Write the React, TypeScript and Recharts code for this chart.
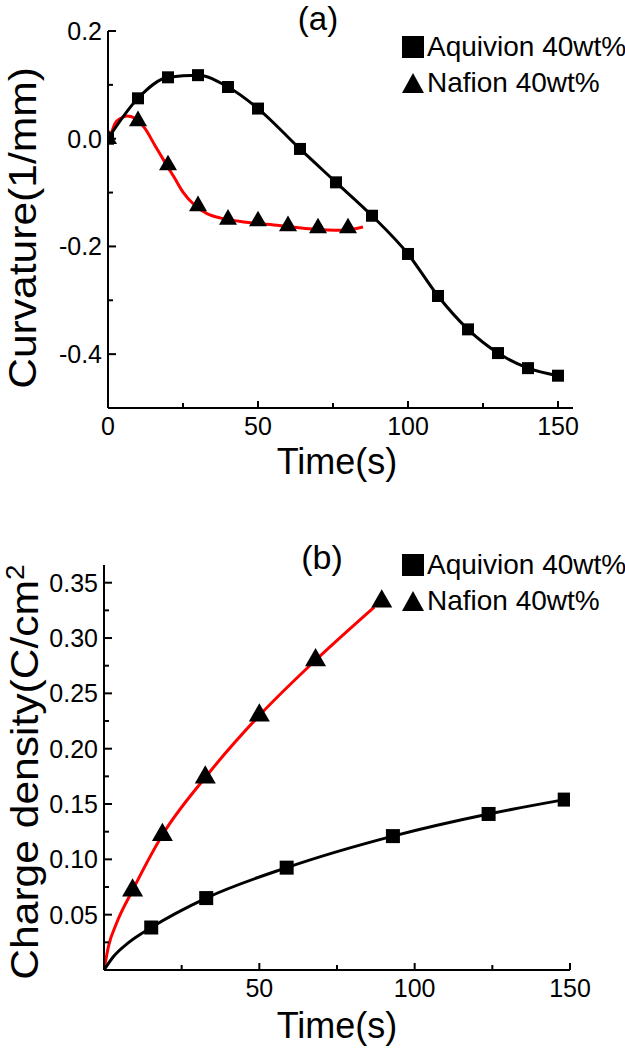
import React from "react";
import { ComposedChart, Line, XAxis, YAxis } from "recharts";

// (a) curvature vs time
const aquivionCurv = [
  { x: 0, y: 0 }, { x: 10, y: 0.075 }, { x: 20, y: 0.114 }, { x: 30, y: 0.118 },
  { x: 40, y: 0.096 }, { x: 50, y: 0.056 }, { x: 64, y: -0.019 }, { x: 76, y: -0.081 },
  { x: 88, y: -0.143 }, { x: 100, y: -0.214 }, { x: 110, y: -0.292 }, { x: 120, y: -0.354 },
  { x: 130, y: -0.398 }, { x: 140, y: -0.426 }, { x: 150, y: -0.44 },
];
const nafionCurv = [
  { x: 0, y: 0 }, { x: 10, y: 0.033 }, { x: 20, y: -0.049 }, { x: 30, y: -0.125 },
  { x: 40, y: -0.15 }, { x: 50, y: -0.153 }, { x: 60, y: -0.162 }, { x: 70, y: -0.166 },
  { x: 80, y: -0.166 },
];
// red fitted curve
const nafionCurvFit = [
  { x: 0, y: 0 }, { x: 1, y: 0.009 }, { x: 2.3, y: 0.028 }, { x: 4.3, y: 0.038 },
  { x: 6.3, y: 0.042 }, { x: 9, y: 0.038 }, { x: 12.3, y: 0.019 }, { x: 15.6, y: -0.012 },
  { x: 18.9, y: -0.043 }, { x: 22.3, y: -0.074 }, { x: 25, y: -0.099 }, { x: 29, y: -0.124 },
  { x: 33, y: -0.139 }, { x: 38, y: -0.148 }, { x: 46, y: -0.155 }, { x: 57, y: -0.161 },
  { x: 67, y: -0.167 }, { x: 78, y: -0.17 }, { x: 85, y: -0.164 },
];

// (b) charge density vs time
const aquivionCharge = [
  { x: 15.2, y: 0.0384 }, { x: 32.9, y: 0.065 }, { x: 58.8, y: 0.0925 },
  { x: 93, y: 0.121 }, { x: 123.8, y: 0.141 }, { x: 148.3, y: 0.154 },
];
const aquivionChargeFit = [
  { x: 0, y: 0 }, { x: 3, y: 0.012 }, { x: 8, y: 0.025 }, { x: 15.2, y: 0.0384 },
  { x: 32.9, y: 0.065 }, { x: 58.8, y: 0.0925 }, { x: 93, y: 0.121 },
  { x: 123.8, y: 0.141 }, { x: 148.3, y: 0.154 },
];
const nafionCharge = [
  { x: 9.2, y: 0.072 }, { x: 18.8, y: 0.122 }, { x: 32.6, y: 0.174 },
  { x: 50, y: 0.23 }, { x: 68.1, y: 0.28 }, { x: 89.4, y: 0.333 },
];
const nafionChargeFit = [
  { x: 0, y: 0 }, { x: 1.5, y: 0.022 }, { x: 4, y: 0.042 }, { x: 9.2, y: 0.072 },
  { x: 18.8, y: 0.122 }, { x: 32.6, y: 0.174 }, { x: 50, y: 0.23 },
  { x: 68.1, y: 0.28 }, { x: 87, y: 0.328 },
];

const xTicksA = [0, 25, 50, 75, 100, 125, 150];
const xLabelsA = [0, 50, 100, 150];
const yTicksA = [-0.5, -0.4, -0.3, -0.2, -0.1, 0, 0.1, 0.2];
const yLabelsA = [-0.4, -0.2, 0, 0.2];

const xTicksB = [0, 25, 50, 75, 100, 125, 150];
const xLabelsB = [50, 100, 150];
const yTicksB = [0, 0.025, 0.05, 0.075, 0.1, 0.125, 0.15, 0.175, 0.2, 0.225, 0.25, 0.275, 0.3, 0.325, 0.35];
const yLabelsB = [0.05, 0.1, 0.15, 0.2, 0.25, 0.3, 0.35];

const FONT = "'Liberation Sans', Arial, sans-serif";

const has = (list: number[], v: number) => list.some((l) => Math.abs(l - v) < 1e-6);

const makeXTick = (labels: number[]) => (props: any) => {
  const { x, y, payload } = props;
  const lab = has(labels, payload.value);
  const major = lab || payload.value % 50 === 0;
  return (
    <g>
      <line x1={x} y1={y} x2={x} y2={y - (major ? 7 : 5)} stroke="#000" strokeWidth={2} />
      {lab && (
        <text x={x} y={y + 27} textAnchor="middle" fontSize={25} fontFamily={FONT} fill="#000">
          {payload.value}
        </text>
      )}
    </g>
  );
};

const makeYTick = (labels: number[], digits: number) => (props: any) => {
  const { x, y, payload } = props;
  const lab = has(labels, payload.value);
  return (
    <g>
      <line x1={x} y1={y} x2={x + (lab ? 8 : 5)} y2={y} stroke="#000" strokeWidth={2} />
      {lab && (
        <text x={x - 6} y={y + 9} textAnchor="end" fontSize={25} fontFamily={FONT} fill="#000">
          {payload.value.toFixed(digits)}
        </text>
      )}
    </g>
  );
};

const Square = (size: number) => (props: any) => {
  const { cx, cy, index } = props;
  if (cx == null || cy == null) return <g key={index} />;
  return <rect key={index} x={cx - size / 2} y={cy - size / 2} width={size} height={size} fill="#000" />;
};

const Triangle = (w: number) => (props: any) => {
  const { cx, cy, index } = props;
  if (cx == null || cy == null) return <g key={index} />;
  const h = w * 0.87;
  return (
    <polygon
      key={index}
      points={`${cx},${cy - (h * 2) / 3} ${cx - w / 2},${cy + h / 3} ${cx + w / 2},${cy + h / 3}`}
      fill="#000"
    />
  );
};

const Legend = ({ top }: { top: number }) => (
  <div style={{ position: "absolute", left: 401, top, fontFamily: FONT, fontSize: 28, color: "#000", lineHeight: "36px", whiteSpace: "nowrap" }}>
    <div style={{ display: "flex", alignItems: "center" }}>
      <svg width={24} height={24} style={{ marginRight: 2 }}><rect x={1} y={1} width={22} height={22} fill="#000" /></svg>
      Aquivion 40wt%
    </div>
    <div style={{ display: "flex", alignItems: "center" }}>
      <svg width={24} height={24} style={{ marginRight: 2 }}><polygon points="12,2 1,22 23,22" fill="#000" /></svg>
      Nafion 40wt%
    </div>
  </div>
);

const textStyle: React.CSSProperties = { position: "absolute", fontFamily: FONT, color: "#000", whiteSpace: "nowrap" };
const axisLine = { stroke: "#000", strokeWidth: 2 };

export default function App() {
  return (
    <div style={{ position: "absolute", left: 0, top: 0, width: 625, height: 1050, background: "#fff", overflow: "hidden" }}>
      {/* panel (a) */}
      <div style={{ position: "absolute", left: 0, top: 0 }}>
        <ComposedChart width={625} height={520} margin={{ top: 31, right: 52, bottom: 72, left: 58 }}>
          <XAxis dataKey="x" type="number" domain={[0, 155]} ticks={xTicksA} interval={0} height={40}
            axisLine={axisLine} tickLine={false} tickSize={0} tickMargin={0}
            tick={makeXTick(xLabelsA)} allowDataOverflow />
          <YAxis type="number" domain={[-0.5, 0.2]} ticks={yTicksA} interval={0} width={50}
            axisLine={axisLine} tickLine={false} tickSize={0} tickMargin={0}
            tick={makeYTick(yLabelsA, 1)} allowDataOverflow />
          <Line data={nafionCurvFit} dataKey="y" type="monotone" stroke="#ff0000" strokeWidth={3} dot={false} isAnimationActive={false} />
          <Line data={aquivionCurv} dataKey="y" type="monotone" stroke="#000" strokeWidth={3} dot={Square(12)} isAnimationActive={false} />
          <Line data={nafionCurv} dataKey="y" stroke="none" dot={Triangle(18)} isAnimationActive={false} />
        </ComposedChart>
      </div>
      <div style={{ ...textStyle, left: 318, top: 19, fontSize: 33, transform: "translate(-50%, -50%)" }}>(a)</div>
      <Legend top={29} />
      <div style={{ ...textStyle, left: 337, top: 462, fontSize: 36, transform: "translate(-50%, -50%)" }}>Time(s)</div>
      <div style={{ ...textStyle, left: 23, top: 228, fontSize: 38, transform: "translate(-50%, -50%) rotate(-90deg) scaleX(1.12)" }}>Curvature(1/mm)</div>

      {/* panel (b) */}
      <div style={{ position: "absolute", left: 0, top: 520 }}>
        <ComposedChart width={625} height={530} margin={{ top: 45, right: 55, bottom: 40, left: 54 }}>
          <XAxis dataKey="x" type="number" domain={[0, 150]} ticks={xTicksB} interval={0} height={40}
            axisLine={axisLine} tickLine={false} tickSize={0} tickMargin={0}
            tick={makeXTick(xLabelsB)} allowDataOverflow />
          <YAxis type="number" domain={[0, 0.366]} ticks={yTicksB} interval={0} width={50}
            axisLine={axisLine} tickLine={false} tickSize={0} tickMargin={0}
            tick={makeYTick(yLabelsB, 2)} allowDataOverflow />
          <Line data={nafionChargeFit} dataKey="y" type="monotone" stroke="#ff0000" strokeWidth={3} dot={false} isAnimationActive={false} />
          <Line data={aquivionChargeFit} dataKey="y" type="monotone" stroke="#000" strokeWidth={3} dot={false} isAnimationActive={false} />
          <Line data={aquivionCharge} dataKey="y" stroke="none" dot={Square(14)} isAnimationActive={false} />
          <Line data={nafionCharge} dataKey="y" stroke="none" dot={Triangle(21)} isAnimationActive={false} />
        </ComposedChart>
      </div>
      <div style={{ ...textStyle, left: 322, top: 557, fontSize: 34, transform: "translate(-50%, -50%)" }}>(b)</div>
      <Legend top={547} />
      <div style={{ ...textStyle, left: 337, top: 1026, fontSize: 36, transform: "translate(-50%, -50%)" }}>Time(s)</div>
      <div style={{ ...textStyle, left: 24, top: 772, fontSize: 38, transform: "translate(-50%, -50%) rotate(-90deg) scaleX(1.12)" }}>
        Charge density(C/cm<sup style={{ fontSize: 25 }}>2</sup>
      </div>
    </div>
  );
}
